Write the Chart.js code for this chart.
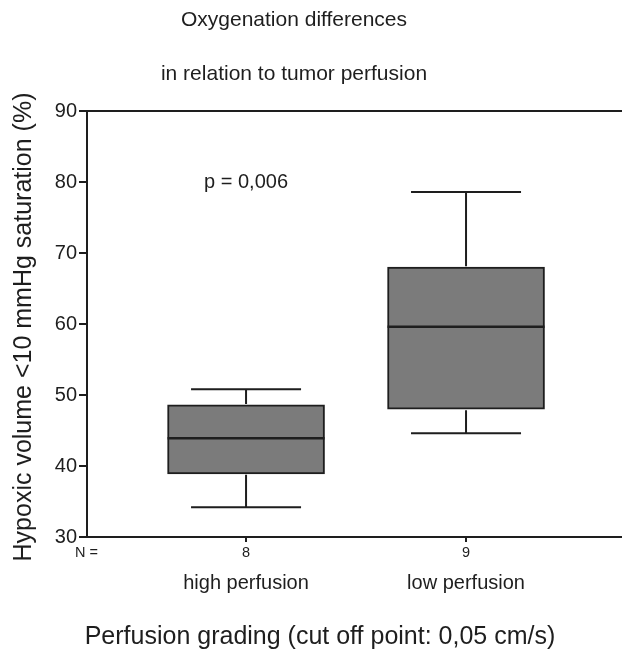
<!DOCTYPE html>
<html><head><meta charset="utf-8">
<script src="https://cdn.jsdelivr.net/npm/chart.js@4.4.1/dist/chart.umd.min.js"></script>
<style>html,body{margin:0;padding:0;background:#fff;}#wrap{width:622px;height:662px;}</style>
</head><body><div id="wrap"><canvas id="c" width="622" height="662"></canvas></div>
<script>
const titleLines = ['Oxygenation differences', 'in relation to tumor perfusion'];
const groupLabels = ['high perfusion', 'low perfusion'];
const groupPositions = [1, 2];
const nCounts = ['8', '9'];
const whiskerLow = [34.2, 44.6];
const q1 = [38.9, 48.0];
const median = [43.9, 59.6];
const q3 = [48.6, 68.0];
const whiskerHigh = [50.8, 78.6];
const yTicks = [30, 40, 50, 60, 70, 80, 90];
const yTitle = 'Hypoxic volume <10 mmHg saturation (%)';
const xTitle = 'Perfusion grading (cut off point: 0,05 cm/s)';
const nPrefix = 'N =';
const pText = 'p = 0,006';
const pAt = {x: 1, y: 80};

const FONT = '"Liberation Sans", Arial, Helvetica, sans-serif';
const INK = '#1e1e1e';

const boxExtras = {
  id: 'boxExtras',
  afterDatasetsDraw(chart) {
    const ctx = chart.ctx, ys = chart.scales.y;
    const meta = chart.getDatasetMeta(0);
    ctx.save();
    ctx.strokeStyle = INK;
    meta.data.forEach((bar, i) => {
      const cx = bar.x, half = bar.width / 2, capHalf = 55;
      const my = ys.getPixelForValue(median[i]);
      ctx.lineWidth = 2.5;
      ctx.beginPath(); ctx.moveTo(cx - half, my); ctx.lineTo(cx + half, my); ctx.stroke();
      const yHi = ys.getPixelForValue(whiskerHigh[i]), yQ3 = ys.getPixelForValue(q3[i]);
      const yLo = ys.getPixelForValue(whiskerLow[i]), yQ1 = ys.getPixelForValue(q1[i]);
      ctx.lineWidth = 2;
      ctx.beginPath();
      ctx.moveTo(cx, yQ3 - 1); ctx.lineTo(cx, yHi);
      ctx.moveTo(cx - capHalf, yHi); ctx.lineTo(cx + capHalf, yHi);
      ctx.moveTo(cx, yQ1 + 1); ctx.lineTo(cx, yLo);
      ctx.moveTo(cx - capHalf, yLo); ctx.lineTo(cx + capHalf, yLo);
      ctx.stroke();
    });
    ctx.restore();
  },
  afterDraw(chart) {
    const ctx = chart.ctx, xs = chart.scales.x, ys = chart.scales.y, area = chart.chartArea;
    ctx.save();
    ctx.fillStyle = INK;
    ctx.textBaseline = 'middle';
    ctx.textAlign = 'center';
    ctx.font = '21px ' + FONT;
    ctx.fillText(titleLines[0], 294, 20);
    ctx.fillText(titleLines[1], 294, 74);
    ctx.font = '20px ' + FONT;
    ctx.fillText(pText, xs.getPixelForValue(pAt.x), ys.getPixelForValue(pAt.y));
    groupLabels.forEach((g, i) => ctx.fillText(g, xs.getPixelForValue(groupPositions[i]), 583));
    ctx.font = '25px ' + FONT;
    ctx.fillText(xTitle, 320, 637);
    ctx.save();
    ctx.translate(24, (area.top + area.bottom) / 2 + 3);
    ctx.rotate(-Math.PI / 2);
    ctx.fillText(yTitle, 0, 0);
    ctx.restore();
    ctx.font = '14.5px ' + FONT;
    ctx.textAlign = 'left';
    ctx.fillText(nPrefix, area.left - 12, 553);
    ctx.restore();
  }
};

new Chart(document.getElementById('c'), {
  type: 'bar',
  data: {
    datasets: [{
      data: groupPositions.map((p, i) => ({x: p, y: [q1[i], q3[i]]})),
      backgroundColor: '#7b7b7b',
      borderColor: INK,
      borderWidth: 2,
      borderSkipped: false,
      barThickness: 157
    }]
  },
  options: {
    responsive: false,
    animation: false,
    devicePixelRatio: 1,
    layout: {padding: {top: 111, left: 0, right: 0, bottom: 0}},
    plugins: {legend: {display: false}, tooltip: {enabled: false}, title: {display: false}},
    scales: {
      x: {
        type: 'linear',
        min: 0.277, max: 2.709,
        offset: false,
        afterBuildTicks: s => { s.ticks = groupPositions.map(v => ({value: v})); },
        afterFit: s => { s.height = 125; },
        ticks: {
          callback: v => { const i = groupPositions.indexOf(v); return i >= 0 ? nCounts[i] : ''; },
          font: {family: FONT, size: 14.5}, color: INK, padding: 2, maxRotation: 0, autoSkip: false
        },
        grid: {offset: false, drawOnChartArea: false, tickLength: 5, tickColor: INK, tickWidth: 2, lineWidth: 2},
        border: {display: true, color: INK, width: 2}
      },
      y: {
        min: 30, max: 90,
        afterBuildTicks: s => { s.ticks = yTicks.map(v => ({value: v})); },
        afterFit: s => { s.width = 87; },
        ticks: {font: {family: FONT, size: 20}, color: INK, padding: 2},
        grid: {
          drawOnChartArea: true,
          color: c => (c.tick && c.tick.value === 90) ? INK : 'rgba(0,0,0,0)',
          lineWidth: 2, tickLength: 8, tickColor: INK, tickWidth: 2
        },
        border: {display: true, color: INK, width: 2}
      }
    }
  },
  plugins: [boxExtras]
});
</script>
</body></html>
